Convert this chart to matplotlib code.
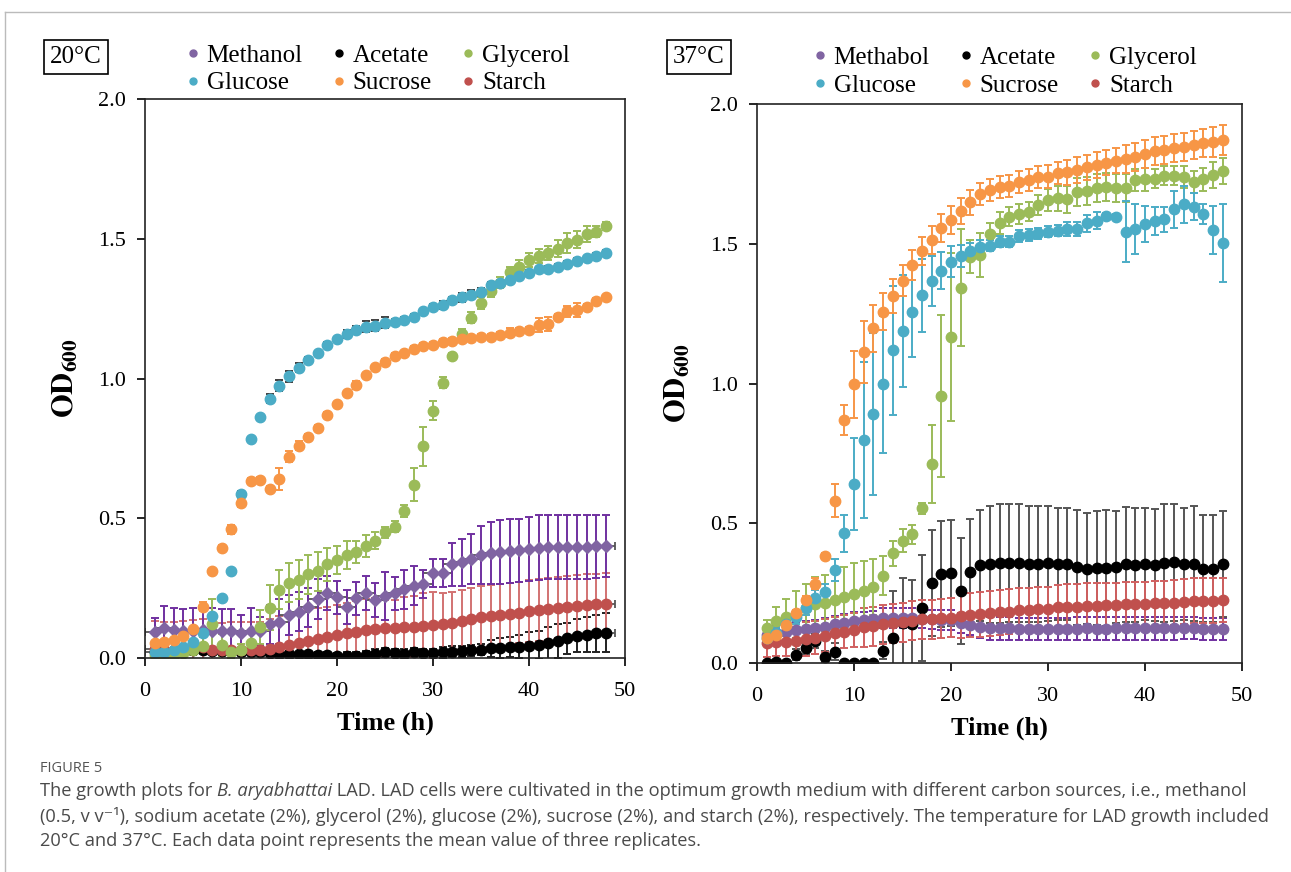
import matplotlib
matplotlib.use("Agg")
import matplotlib.pyplot as plt
from matplotlib.lines import Line2D

W, H = 1291, 872

hours = list(range(1, 49))
series = ["Methanol", "Acetate", "Glycerol", "Glucose", "Sucrose", "Starch"]
labels_37 = ["Methabol", "Acetate", "Glycerol", "Glucose", "Sucrose", "Starch"]

# ---- 20 C ----
meth20 = [0.094, 0.106, 0.10, 0.097, 0.098, 0.10, 0.098, 0.096, 0.096, 0.088, 0.098, 0.095,
          0.12, 0.13, 0.154, 0.166, 0.181, 0.211, 0.232, 0.217, 0.182, 0.213, 0.232, 0.208,
          0.222, 0.231, 0.246, 0.258, 0.264, 0.304, 0.305, 0.336, 0.342, 0.355, 0.368, 0.375,
          0.38, 0.383, 0.386, 0.39, 0.395, 0.397, 0.398, 0.398, 0.398, 0.398, 0.399, 0.40]
meth20_err = [0.05, 0.08, 0.08, 0.08, 0.08, 0.07, 0.08, 0.08, 0.08, 0.065, 0.08, 0.05,
              0.07, 0.08, 0.07, 0.07, 0.07, 0.07, 0.06, 0.06, 0.06, 0.06, 0.06, 0.06,
              0.085, 0.06, 0.07, 0.07, 0.05, 0.05, 0.05, 0.077, 0.085, 0.09, 0.105, 0.11,
              0.115, 0.115, 0.113, 0.115, 0.115, 0.115, 0.115, 0.115, 0.115, 0.115, 0.112, 0.11]
acet20 = [0.023, 0.025, 0.025, 0.026, 0.027, 0.03, 0.026, 0.025, 0.024, 0.022, 0.023, 0.02,
          0.018, 0.016, 0.014, 0.013, 0.013, 0.012, 0.01, 0.008, 0.006, 0.007, 0.011, 0.016,
          0.02, 0.018, 0.016, 0.02, 0.018, 0.017, 0.02, 0.023, 0.024, 0.028, 0.03, 0.034,
          0.036, 0.04, 0.041, 0.042, 0.045, 0.052, 0.061, 0.07, 0.08, 0.084, 0.088, 0.091]
acet20_err = [0.01] * 20 + [0.015] * 10 + [0.02] * 5 + \
             [0.03, 0.035, 0.036, 0.04, 0.05, 0.05, 0.06, 0.06, 0.055, 0.06, 0.064, 0.065, 0.07]
gly20 = [0.01, 0.01, 0.012, 0.018, 0.03, 0.044, 0.12, 0.047, 0.02, 0.03, 0.054, 0.11,
         0.18, 0.245, 0.27, 0.28, 0.30, 0.31, 0.335, 0.35, 0.37, 0.38, 0.40, 0.42,
         0.45, 0.47, 0.526, 0.62, 0.757, 0.885, 0.985, 1.08, 1.158, 1.218, 1.27, 1.313,
         1.343, 1.38, 1.40, 1.424, 1.44, 1.45, 1.464, 1.484, 1.496, 1.517, 1.525, 1.546]
gly20_err = [0.01, 0.01, 0.01, 0.01, 0.02, 0.03, 0.09, 0.04, 0.02, 0.02, 0.04, 0.06,
             0.08, 0.07, 0.07, 0.07, 0.07, 0.07, 0.06, 0.05, 0.05, 0.04, 0.04, 0.03,
             0.02, 0.02, 0.02, 0.06, 0.07, 0.035, 0.02, 0.01, 0.02, 0.02, 0.02, 0.02,
             0.02, 0.02, 0.025, 0.025, 0.025, 0.025, 0.03, 0.035, 0.03, 0.03, 0.02, 0.015]
glc20 = [0.02, 0.02, 0.03, 0.04, 0.057, 0.09, 0.15, 0.216, 0.31, 0.587, 0.785, 0.861,
         0.928, 0.974, 1.008, 1.039, 1.066, 1.09, 1.12, 1.14, 1.159, 1.173, 1.185, 1.189,
         1.20, 1.203, 1.21, 1.22, 1.24, 1.257, 1.262, 1.28, 1.29, 1.30, 1.31, 1.335,
         1.343, 1.353, 1.368, 1.377, 1.39, 1.392, 1.40, 1.41, 1.42, 1.43, 1.44, 1.45]
glc20_err = [0.005, 0.005, 0.005, 0.005, 0.005, 0.005, 0.005, 0.005, 0.005, 0.01, 0.005, 0.01,
             0.015, 0.02, 0.02, 0.015, 0.01, 0.01, 0.01, 0.01, 0.015, 0.015, 0.02, 0.02,
             0.02, 0.01, 0.01, 0.01, 0.01, 0.01, 0.015, 0.01, 0.015, 0.015, 0.015, 0.01,
             0.01, 0.01, 0.01, 0.01, 0.01, 0.01, 0.01, 0.01, 0.01, 0.01, 0.01, 0.01]
suc20 = [0.054, 0.058, 0.064, 0.08, 0.104, 0.184, 0.31, 0.395, 0.46, 0.555, 0.633, 0.636,
         0.605, 0.64, 0.72, 0.76, 0.79, 0.824, 0.87, 0.907, 0.947, 0.977, 1.011, 1.04,
         1.06, 1.08, 1.09, 1.107, 1.116, 1.12, 1.13, 1.135, 1.14, 1.145, 1.148, 1.15,
         1.155, 1.164, 1.17, 1.175, 1.19, 1.195, 1.22, 1.24, 1.245, 1.257, 1.278, 1.29]
suc20_err = [0.005, 0.005, 0.005, 0.005, 0.005, 0.015, 0.01, 0.01, 0.015, 0.015, 0.01, 0.01,
             0.01, 0.04, 0.02, 0.015, 0.01, 0.01, 0.01, 0.01, 0.01, 0.015, 0.01, 0.01,
             0.01, 0.01, 0.01, 0.01, 0.01, 0.01, 0.01, 0.01, 0.01, 0.01, 0.01, 0.01,
             0.01, 0.015, 0.01, 0.01, 0.025, 0.025, 0.01, 0.02, 0.025, 0.01, 0.01, 0.01]
starch20 = [0.031, 0.03, 0.03, 0.032, 0.037, 0.038, 0.028, 0.027, 0.028, 0.028, 0.028, 0.03,
            0.031, 0.04, 0.047, 0.055, 0.062, 0.068, 0.074, 0.081, 0.088, 0.094, 0.10, 0.104,
            0.106, 0.107, 0.11, 0.112, 0.114, 0.117, 0.122, 0.126, 0.133, 0.14, 0.146, 0.15,
            0.153, 0.157, 0.162, 0.168, 0.172, 0.176, 0.18, 0.184, 0.187, 0.19, 0.192, 0.194]
starch20_err = [0.1] * 12 + [0.11] * 12 + [0.1, 0.1, 0.11, 0.11, 0.12, 0.12] + [0.11] * 18

# ---- 37 C ----
meth37 = [0.10, 0.106, 0.112, 0.118, 0.12, 0.124, 0.13, 0.138, 0.144, 0.151, 0.154, 0.157,
          0.16, 0.16, 0.16, 0.16, 0.159, 0.156, 0.154, 0.154, 0.144, 0.136, 0.128, 0.124,
          0.124, 0.124, 0.122, 0.122, 0.121, 0.121, 0.122, 0.122, 0.123, 0.124, 0.123, 0.123,
          0.124, 0.124, 0.124, 0.124, 0.124, 0.124, 0.124, 0.125, 0.125, 0.121, 0.121, 0.121]
meth37_err = [0.03] * 12 + [0.035] * 10 + [0.04] * 26
acet37 = [0.0, 0.003, 0.0, 0.029, 0.053, 0.077, 0.023, 0.041, 0.0, 0.0, 0.0, 0.0,
          0.044, 0.088, 0.144, 0.138, 0.196, 0.287, 0.318, 0.321, 0.257, 0.325, 0.349, 0.353,
          0.356, 0.358, 0.358, 0.354, 0.354, 0.356, 0.354, 0.353, 0.342, 0.338, 0.34, 0.34,
          0.344, 0.353, 0.35, 0.353, 0.35, 0.358, 0.36, 0.353, 0.355, 0.338, 0.338, 0.353]
acet37_err = [0.005, 0.005, 0.005, 0.02, 0.02, 0.025, 0.02, 0.03, 0.005, 0.005, 0.005, 0.005,
              0.03, 0.17, 0.16, 0.16, 0.19, 0.19, 0.19, 0.19, 0.19, 0.19, 0.2, 0.21,
              0.212, 0.212, 0.212, 0.206, 0.206, 0.206, 0.2, 0.2, 0.205, 0.2, 0.205, 0.206,
              0.2, 0.205, 0.205, 0.2, 0.2, 0.21, 0.21, 0.2, 0.205, 0.19, 0.19, 0.19]
gly37 = [0.124, 0.151, 0.163, 0.174, 0.196, 0.212, 0.216, 0.226, 0.235, 0.247, 0.259, 0.271,
         0.312, 0.392, 0.438, 0.46, 0.553, 0.712, 0.955, 1.167, 1.343, 1.454, 1.46, 1.535,
         1.575, 1.597, 1.606, 1.615, 1.639, 1.657, 1.662, 1.659, 1.686, 1.69, 1.70, 1.704,
         1.70, 1.70, 1.728, 1.73, 1.733, 1.744, 1.744, 1.738, 1.72, 1.73, 1.746, 1.759]
gly37_err = [0.03, 0.05, 0.065, 0.085, 0.085, 0.095, 0.1, 0.105, 0.11, 0.11, 0.106, 0.1,
             0.07, 0.045, 0.04, 0.035, 0.02, 0.14, 0.29, 0.3, 0.21, 0.06, 0.08, 0.04,
             0.04, 0.035, 0.035, 0.035, 0.035, 0.04, 0.045, 0.048, 0.05, 0.05, 0.05, 0.05,
             0.05, 0.05, 0.04, 0.04, 0.035, 0.035, 0.035, 0.04, 0.04, 0.04, 0.045, 0.047]
glc37 = [0.088, 0.108, 0.138, 0.166, 0.198, 0.231, 0.253, 0.333, 0.464, 0.64, 0.798, 0.891,
         0.997, 1.119, 1.188, 1.255, 1.316, 1.367, 1.404, 1.436, 1.457, 1.474, 1.487, 1.493,
         1.507, 1.507, 1.528, 1.531, 1.537, 1.543, 1.546, 1.552, 1.552, 1.573, 1.583, 1.60,
         1.597, 1.543, 1.552, 1.57, 1.581, 1.587, 1.623, 1.641, 1.633, 1.606, 1.549, 1.502]
glc37_err = [0.02, 0.02, 0.02, 0.025, 0.025, 0.03, 0.03, 0.04, 0.066, 0.165, 0.28, 0.29,
             0.245, 0.23, 0.2, 0.16, 0.13, 0.09, 0.066, 0.055, 0.04, 0.03, 0.025, 0.02,
             0.02, 0.02, 0.02, 0.02, 0.02, 0.02, 0.02, 0.025, 0.025, 0.03, 0.03, 0.01,
             0.01, 0.11, 0.09, 0.065, 0.05, 0.045, 0.065, 0.065, 0.047, 0.035, 0.085, 0.14]
suc37 = [0.09, 0.10, 0.136, 0.178, 0.225, 0.283, 0.383, 0.581, 0.869, 0.997, 1.112, 1.197,
         1.257, 1.313, 1.368, 1.424, 1.474, 1.513, 1.555, 1.585, 1.617, 1.648, 1.678, 1.692,
         1.704, 1.707, 1.722, 1.728, 1.738, 1.74, 1.752, 1.756, 1.764, 1.773, 1.782, 1.79,
         1.797, 1.804, 1.811, 1.821, 1.832, 1.835, 1.841, 1.845, 1.853, 1.859, 1.864, 1.871]
suc37_err = [0.01, 0.01, 0.01, 0.01, 0.015, 0.02, 0.01, 0.06, 0.054, 0.12, 0.11, 0.084,
             0.066, 0.06, 0.055, 0.054, 0.05, 0.05, 0.05, 0.05, 0.045, 0.045, 0.04, 0.04,
             0.04, 0.04, 0.04, 0.04, 0.04, 0.04, 0.04, 0.045, 0.045, 0.045, 0.045, 0.045,
             0.045, 0.05, 0.05, 0.05, 0.05, 0.05, 0.05, 0.05, 0.05, 0.05, 0.055, 0.055]
starch37 = [0.07, 0.076, 0.076, 0.079, 0.085, 0.091, 0.098, 0.106, 0.112, 0.118, 0.128, 0.132,
            0.138, 0.142, 0.145, 0.151, 0.156, 0.156, 0.16, 0.162, 0.169, 0.172, 0.174, 0.178,
            0.181, 0.184, 0.19, 0.19, 0.192, 0.192, 0.2, 0.202, 0.202, 0.205, 0.205, 0.206,
            0.207, 0.21, 0.21, 0.211, 0.214, 0.214, 0.216, 0.22, 0.223, 0.223, 0.223, 0.225]
starch37_err = [0.05] * 4 + [0.06] * 6 + [0.07] * 10 + [0.08] * 28

colors = {"Methanol": "#8064A2", "Acetate": "#000000", "Glycerol": "#9BBB59",
          "Glucose": "#4BACC6", "Sucrose": "#F79646", "Starch": "#C0504D"}

plt.rcParams["font.family"] = ["Liberation Serif", "DejaVu Serif"]
plt.rcParams["mathtext.fontset"] = "stix"

fig = plt.figure(figsize=(W / 100, H / 100), dpi=100)

ax1 = fig.add_axes([145 / W, 1 - 658 / H, 480 / W, 559 / H])
ax2 = fig.add_axes([757 / W, 1 - 663 / H, 485 / W, 559 / H])

# draw order: acetate, starch, methanol, glycerol, glucose, sucrose
left = [
    ("Acetate", acet20, acet20_err, "o", "#202020", True),
    ("Starch", starch20, starch20_err, "o", "#D27272", True),
    ("Methanol", meth20, meth20_err, "D", "#7030A0", True),
    ("Glycerol", gly20, gly20_err, "o", "#9BBB59", False),
    ("Glucose", glc20, glc20_err, "o", "#404040", False),
    ("Sucrose", suc20, suc20_err, "o", "#F79646", False),
]
right = [
    ("Methanol", meth37, meth37_err, "o", "#7030A0", False),
    ("Acetate", acet37, acet37_err, "o", "#555555", False),
    ("Starch", starch37, starch37_err, "o", "#D06060", False),
    ("Glycerol", gly37, gly37_err, "o", "#9BBB59", False),
    ("Glucose", glc37, glc37_err, "o", "#4BACC6", False),
    ("Sucrose", suc37, suc37_err, "o", "#F79646", False),
]

for ax, panel in ((ax1, left), (ax2, right)):
    for name, vals, err, mk, ecol, xbar in panel:
        if xbar:
            ax.errorbar(hours, vals, xerr=1, fmt="none", ecolor="#555555",
                        elinewidth=1.3, capsize=3, capthick=1.3)
        ms = 6.5 if mk == "D" else 7.5
        ax.errorbar(hours, vals, yerr=err, fmt=mk, color=colors[name], ms=ms,
                    mec=colors[name], ecolor=ecol, elinewidth=1.4, capsize=3,
                    capthick=1.4)

    ax.set_xlim(0, 50)
    ax.set_ylim(0, 2.0)
    ax.set_xticks([0, 10, 20, 30, 40, 50])
    ax.set_yticks([0.0, 0.5, 1.0, 1.5, 2.0])
    ax.set_yticklabels(["0.0", "0.5", "1.0", "1.5", "2.0"])
    ax.tick_params(direction="out", length=6, width=1.2, labelsize=16, pad=8)
    ax.tick_params(axis="x", pad=11)
    for sp in ax.spines.values():
        sp.set_linewidth(1.2)
        sp.set_color("#222222")
    ax.set_xlabel("Time (h)", fontsize=19, fontweight="bold", labelpad=8)
    ax.set_ylabel(r"$\mathbf{OD}_{\mathbf{600}}$", fontsize=22, labelpad=12)

# legends
def legend_for(ax, names, anchor):
    order = [0, 3, 1, 4, 2, 5]
    handles = [Line2D([], [], ls="none", marker="o", ms=5, color=colors[series[i]])
               for i in order]
    ax.legend(handles, [names[i] for i in order], ncol=3, loc="center",
              bbox_to_anchor=anchor, frameon=False, fontsize=18, handlelength=0.4,
              handletextpad=0.35, columnspacing=1.25, labelspacing=0.2,
              borderaxespad=0)

legend_for(ax1, series, (0.487, 1.053))
legend_for(ax2, labels_37, (0.513, 1.058))

box = dict(boxstyle="square,pad=0.25", fc="white", ec="black", lw=1.2)
fig.text(76 / W, 1 - 57 / H, "20\u00b0C", fontsize=18, ha="center", va="center", bbox=box)
fig.text(699 / W, 1 - 57 / H, "37\u00b0C", fontsize=18, ha="center", va="center", bbox=box)

# page border
fig.add_artist(Line2D([5 / W, 1], [1 - 12 / H, 1 - 12 / H], color="#bbbbbb", lw=1))
fig.add_artist(Line2D([5 / W, 5 / W], [0, 1 - 12 / H], color="#bbbbbb", lw=1))

# caption
cap_font = ["Open Sans", "DejaVu Sans"]
cap_col = "#4a4a4a"
fig.text(40 / W, 1 - 768 / H, "FIGURE 5", fontsize=10.5, color="#555555",
         family=cap_font, va="center")

line1 = [("The growth plots for ", "normal"), ("B. aryabhattai", "italic"),
         (" LAD. LAD cells were cultivated in the optimum growth medium with different "
          "carbon sources, i.e., methanol", "normal")]
line2 = [("(0.5, v v\u207b\u00b9), sodium acetate (2%), glycerol (2%), glucose (2%), "
          "sucrose (2%), and starch (2%), respectively. The temperature for LAD growth "
          "included", "normal")]
line3 = [("20\u00b0C and 37\u00b0C. Each data point represents the mean value of three "
          "replicates.", "normal")]

renderer = fig.canvas.get_renderer()

def measure(runs, size):
    total = 0
    for txt, st in runs:
        t = fig.text(0, 0, txt, fontsize=size, style=st, family=cap_font)
        total += t.get_window_extent(renderer).width
        t.remove()
    return total

base = 12
size = base * (1206 / measure(line1, base))

def draw_runs(runs, ypx):
    x = 40
    for txt, st in runs:
        t = fig.text(x / W, 1 - ypx / H, txt, fontsize=size, style=st,
                     family=cap_font, color=cap_col, va="center")
        x += t.get_window_extent(renderer).width

draw_runs(line1, 791)
draw_runs(line2, 816)
draw_runs(line3, 841)

fig.savefig("out.png", dpi=100)
